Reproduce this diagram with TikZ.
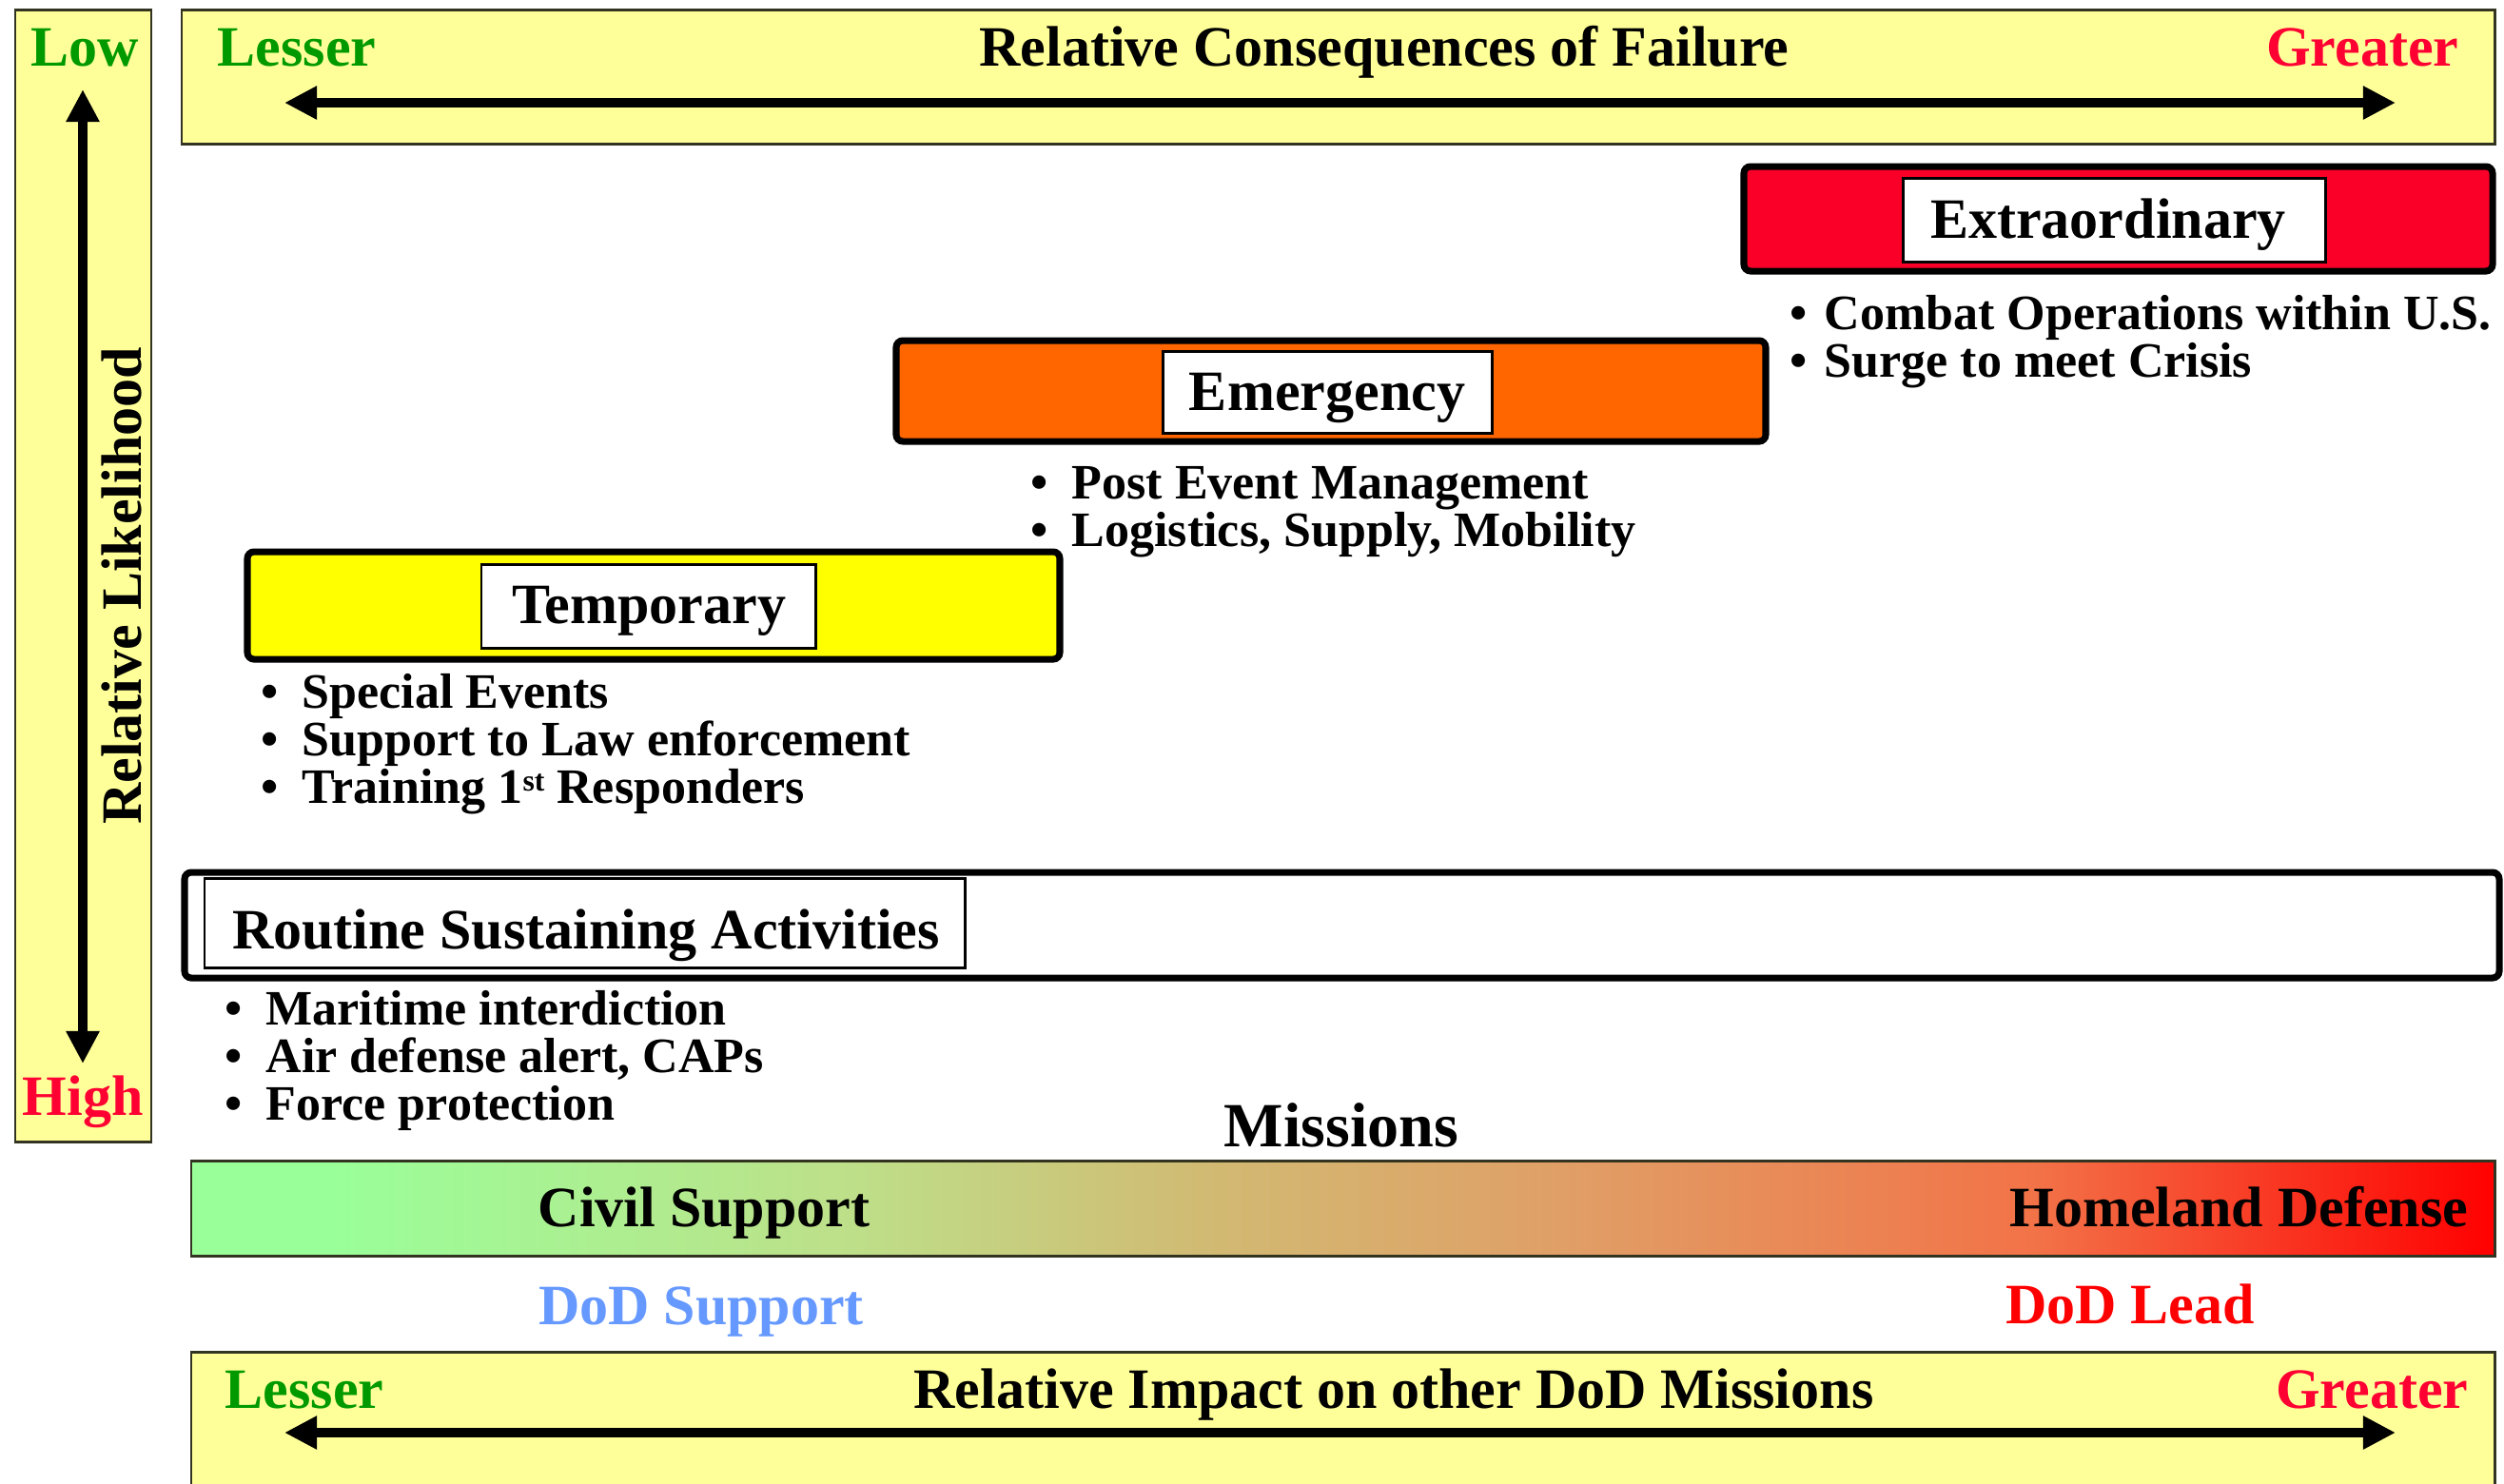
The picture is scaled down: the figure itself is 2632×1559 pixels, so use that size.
\documentclass[tikz,border=0pt]{standalone}
\usepackage{fontspec}
\setmainfont{Liberation Serif}
\usetikzlibrary{arrows.meta}
\definecolor{paleyellow}{HTML}{FFFF99}
\definecolor{lowgreen}{HTML}{009900}
\definecolor{hired}{HTML}{FF0033}
\definecolor{extrared}{HTML}{FA0028}
\definecolor{emorange}{HTML}{FF6600}
\definecolor{tempyellow}{HTML}{FFFF00}
\definecolor{dodblue}{HTML}{6699FF}
\definecolor{dodred}{HTML}{FF0000}
\definecolor{boxline}{HTML}{333322}
\pgfdeclarehorizontalshading{missionshade}{100bp}{rgb(0bp)=(0.6,1,0.6); rgb(28bp)=(0.6,1,0.6); rgb(39bp)=(0.74,0.88,0.54); rgb(47bp)=(0.82,0.73,0.45); rgb(55bp)=(0.88,0.62,0.4); rgb(65bp)=(0.95,0.45,0.28); rgb(75bp)=(1,0,0); rgb(100bp)=(1,0,0)}
\newcommand\hdfont{\fontsize{17.07pt}{20pt}\selectfont\bfseries}
\newcommand\blfont{\fontsize{14.8pt}{17pt}\selectfont\bfseries}
\newcommand\msfont{\fontsize{18.8pt}{22pt}\selectfont\bfseries}
\newcommand\bul[1][7pt]{\llap{\textbullet\hspace{#1}}}
\newcommand\supst{\raisebox{3.7pt}{\fontsize{9pt}{9pt}\selectfont st}}
\begin{document}
\begin{tikzpicture}[x=0.01cm,y=-0.01cm,
  axisbox/.style={draw=boxline, fill=paleyellow, line width=0.85pt},
  tierbox/.style={draw=black, line width=2pt, rounded corners=2pt},
  labelbox/.style={draw=black, fill=white, line width=0.85pt},
  hd/.style={font=\hdfont, inner sep=0pt, anchor=base},
  bl/.style={font=\blfont, inner sep=0pt, anchor=base west},
  dblarrow/.style={{Triangle[length=9.7pt,width=9.4pt]}-{Triangle[length=9.7pt,width=9.4pt]}, line width=3.1pt}]
\useasboundingbox (0,0) rectangle (2632,1559);
\clip (0,0) rectangle (2632,1559);
\fill[white] (0,0) rectangle (2632,1559);

% likelihood axis
\draw[axisbox] (16,10) rectangle (159,1200);
\node[hd, text=lowgreen] (low) at (89,69) {Low};
\node[hd, text=hired] (high) at (87,1172) {High};
\coordinate (likeTop) at (87,94);
\coordinate (likeBot) at (87,1118);
\draw[dblarrow] (likeBot) -- (likeTop);
\node[font=\hdfont, inner sep=0pt, rotate=90] (likely) at (128,616) {Relative Likelihood};

% consequences axis
\draw[axisbox] (191,10) rectangle (2622,151);
\node[hd, anchor=base west, text=lowgreen] (lesserTop) at (228,69) {Lesser};
\node[hd] (consTitle) at (1455,69) {Relative Consequences of Failure};
\node[hd, anchor=base east, text=hired] (greaterTop) at (2585,69) {Greater};
\coordinate (consL) at (299,108);
\coordinate (consR) at (2518,108);
\draw[dblarrow] (consL) -- (consR);

% Extraordinary
\draw[tierbox, fill=extrared] (1833,175) rectangle (2620,285);
\draw[labelbox] (2000,187) rectangle (2444,275);
\node[hd] (extra) at (2216,250) {Extraordinary};
\node[bl] (ex1) at (1917,346) {\bul[5pt]Combat Operations within U.S.};
\node[bl] (ex2) at (1917,396) {\bul[5pt]Surge to meet Crisis};

% Emergency
\draw[tierbox, fill=emorange] (942,358) rectangle (1856,464);
\draw[labelbox] (1222,369) rectangle (1568,455);
\node[hd] (emerg) at (1395,431) {Emergency};
\node[bl] (em1) at (1126,524) {\bul Post Event Management};
\node[bl] (em2) at (1126,574) {\bul Logistics, Supply, Mobility};

% Temporary
\draw[tierbox, fill=tempyellow] (260,580) rectangle (1114,693);
\draw[labelbox] (506,593) rectangle (857,681);
\node[hd] (temp) at (682,655) {Temporary};
\node[bl] (tp1) at (317,744) {\bul Special Events};
\node[bl] (tp2) at (317,794) {\bul Support to Law enforcement};
\node[bl] (tp3) at (317,844) {\bul Training 1\supst{} Responders};

% Routine
\draw[tierbox, fill=white] (194,917) rectangle (2627,1028);
\draw[labelbox] (215,923) rectangle (1014,1017);
\node[hd] (routine) at (616,997) {Routine Sustaining Activities};
\node[bl] (rt1) at (279,1077) {\bul Maritime interdiction};
\node[bl] (rt2) at (279,1127) {\bul Air defense alert, CAPs};
\node[bl] (rt3) at (279,1177) {\bul Force protection};

% Missions
\node[font=\msfont, inner sep=0pt, anchor=base] (missions) at (1410,1205) {Missions};
\shade[shading=missionshade] (201,1220) rectangle (2622,1320);
\draw[draw=boxline, line width=0.85pt] (201,1220) rectangle (2622,1320);
\node[hd] (civil) at (740,1289) {Civil Support};
\node[hd, anchor=base east] (homeland) at (2595,1289) {Homeland Defense};
\node[hd, text=dodblue] (dodsup) at (737,1392) {DoD Support};
\node[hd, text=dodred] (dodlead) at (2239,1391) {DoD Lead};

% impact axis
\draw[axisbox] (201,1421) rectangle (2622,1620);
\node[hd, anchor=base west, text=lowgreen] (lesserBot) at (236,1480) {Lesser};
\node[hd] (impTitle) at (1465,1480) {Relative Impact on other DoD Missions};
\node[hd, anchor=base east, text=hired] (greaterBot) at (2595,1480) {Greater};
\coordinate (impL) at (299,1506);
\coordinate (impR) at (2518,1506);
\draw[dblarrow] (impL) -- (impR);
\end{tikzpicture}
\end{document}
